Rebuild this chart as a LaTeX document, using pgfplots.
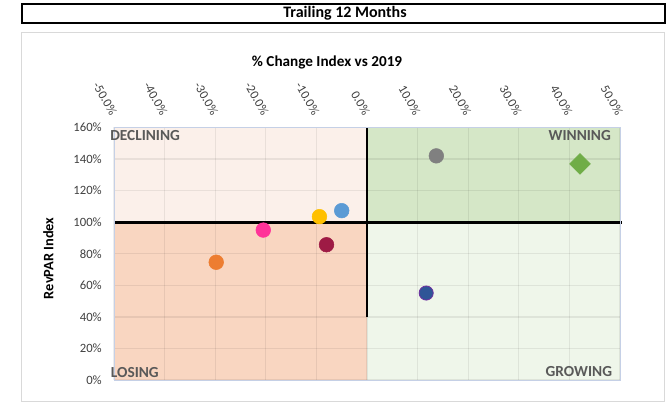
\documentclass[border=0pt]{standalone}
\usepackage{pgfplots}
\pgfplotsset{compat=1.18}
\usepackage{fontspec}
\setmainfont{Carlito}
\definecolor{qTL}{HTML}{FBF0EA}
\definecolor{qBL}{HTML}{F9D6C1}
\definecolor{qTR}{HTML}{D5E7C7}
\definecolor{qBR}{HTML}{EFF6EA}
\definecolor{cOrange}{HTML}{ED7D31}
\definecolor{cPink}{HTML}{FF3399}
\definecolor{cYellow}{HTML}{FFC000}
\definecolor{cLBlue}{HTML}{5B9BD5}
\definecolor{cMaroon}{HTML}{9E1B45}
\definecolor{cGray}{HTML}{808080}
\definecolor{cGreen}{HTML}{70AD47}
\definecolor{cDBlue}{HTML}{2F5597}
\definecolor{cPurple}{HTML}{7030A0}
\definecolor{axline}{HTML}{C5D0E6}
\definecolor{qtext}{HTML}{595959}
\begin{document}
\begin{tikzpicture}
\path[use as bounding box] (0pt,0pt) rectangle (500.25pt,303pt);
\draw[line width=1.5pt] (16.5pt,300pt) rectangle (498.75pt,286pt);
\node[font=\fontsize{12}{14}\selectfont\bfseries] at (258.75pt,293.25pt) {Trailing 12 Months};
\draw[color=black!15, line width=0.75pt] (16.3pt,278.5pt) rectangle (498.2pt,2.25pt);
\node[font=\fontsize{11.4}{13}\selectfont\bfseries] at (245.3pt,255.8pt) {\% Change Index vs 2019};
\node[font=\fontsize{10.8}{13}\selectfont\bfseries, rotate=90] at (36.2pt,109.3pt) {RevPAR Index};
\begin{axis}[
  at={(85.5pt,18pt)}, anchor=south west,
  scale only axis, width=379.5pt, height=189.4pt,
  axis on top,
  xmin=-50, xmax=50, ymin=0, ymax=160,
  xtick={-50,-40,...,50}, ytick={0,20,...,160},
  xticklabels={-50.0\%,-40.0\%,-30.0\%,-20.0\%,-10.0\%,0.0\%,10.0\%,20.0\%,30.0\%,40.0\%,50.0\%},
  yticklabels={0\%,20\%,40\%,60\%,80\%,100\%,120\%,140\%,160\%},
  xticklabel pos=right,
  major tick length=0pt,
  xticklabel style={rotate=-60, anchor=east, inner sep=0pt, font=\fontsize{9.5}{11}\selectfont, text=black!75},
  xticklabel shift=10pt,
  yticklabel style={font=\fontsize{9.5}{11}\selectfont, text=black!75, inner sep=0pt},
  yticklabel shift=9pt,
  grid=major,
  major grid style={black, opacity=0.07, line width=1pt},
  axis line style={axline, line width=0.75pt},
  clip=false,
]
\addplot[fill=qTL, draw=none] coordinates {(-50,100) (0,100) (0,160) (-50,160)};
\addplot[fill=qBL, draw=none] coordinates {(-50,0) (0,0) (0,100) (-50,100)};
\addplot[fill=qTR, draw=none] coordinates {(0,100) (50,100) (50,160) (0,160)};
\addplot[fill=qBR, draw=none] coordinates {(0,0) (50,0) (50,100) (0,100)};
\addplot[black, line width=2pt] coordinates {(-50,100) (50.3,100)};
\addplot[black, line width=2pt] coordinates {(0,40) (0,160)};
\addplot[only marks, mark=*, mark size=5.5pt, color=cOrange] coordinates {(-29.8,74.6)};
\addplot[only marks, mark=*, mark size=5.5pt, color=cPink] coordinates {(-20.5,95.0)};
\addplot[only marks, mark=*, mark size=5.5pt, color=cYellow] coordinates {(-9.4,103.5)};
\addplot[only marks, mark=*, mark size=5.5pt, color=cLBlue] coordinates {(-5.0,107.3)};
\addplot[only marks, mark=*, mark size=5.5pt, color=cMaroon] coordinates {(-8.0,85.7)};
\addplot[only marks, mark=*, mark size=5.5pt, color=cGray] coordinates {(13.7,142.0)};
\addplot[only marks, mark=*, mark size=5.3pt, mark options={fill=cDBlue, draw=cPurple, line width=0.6pt}] coordinates {(11.7,55.1)};
\addplot[only marks, mark=square*, mark size=5.5pt, mark options={rotate=45}, color=cGreen] coordinates {(42.1,136.9)};
\end{axis}
\node[anchor=west, font=\fontsize{11.5}{13}\selectfont\bfseries, text=qtext, inner sep=0pt] at (82.5pt,201pt) {DECLINING};
\node[anchor=east, font=\fontsize{11.5}{13}\selectfont\bfseries, text=qtext, inner sep=0pt] at (458.3pt,201pt) {WINNING};
\node[anchor=west, font=\fontsize{11.5}{13}\selectfont\bfseries, text=qtext, inner sep=0pt] at (83pt,23.3pt) {LOSING};
\node[anchor=east, font=\fontsize{11.5}{13}\selectfont\bfseries, text=qtext, inner sep=0pt] at (459.2pt,24.2pt) {GROWING};
\end{tikzpicture}
\end{document}
